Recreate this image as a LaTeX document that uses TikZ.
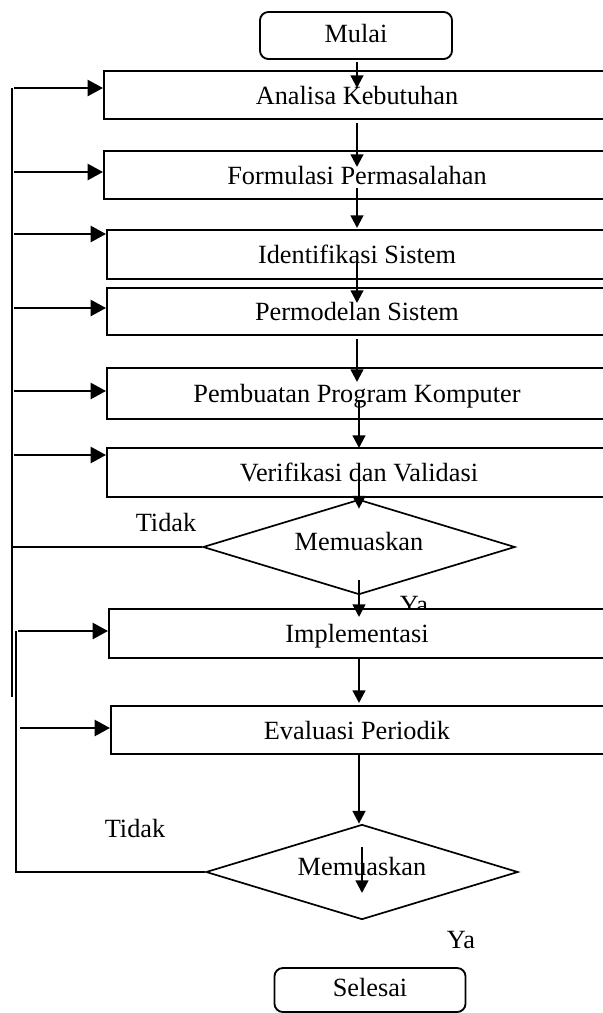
\documentclass[tikz,border=0pt]{standalone}
\usepackage{fontspec}
\setmainfont{Liberation Serif}
\usetikzlibrary{shapes.geometric, arrows.meta, calc, positioning}
\tikzset{
  flowchart/.style={
	x=0.025cm, y=-0.025cm, % one unit is one pixel, y runs downwards
	font=\fontsize{18.7}{22}\selectfont,
	line width=1.5pt,
  },
  stepbox/.style={draw, fill=white, minimum width=14cm, inner sep=0pt, anchor=north west}, % runs off the right edge
  steptext/.style={inner sep=0pt, text height=0.68em, text depth=0.22em},
  term/.style={draw, rounded corners=6pt, line width=1.3pt, inner sep=0pt, text height=1.05em, text depth=0.12em},
  decide/.style={diamond, draw, line width=1.2pt, inner sep=0pt, aspect=3.3,
	minimum width=7.8cm, minimum height=2.375cm, text height=0.68em, text depth=0.22em},
  varr/.style={-{Triangle[length=9pt, width=9pt]}, line width=1.6pt},
  harr/.style={-{Triangle[length=11pt, width=11.5pt]}, line width=1.7pt},
  back/.style={line width=1.5pt},
}
\begin{document}
\begin{tikzpicture}[flowchart]
\useasboundingbox (0,0) rectangle (603,1013);
\clip (0,0) rectangle (603,1013);

\node[term, minimum width=4.8cm, minimum height=1.175cm] (mul) at (356,35.5) {Mulai};
\node[anchor=base] (ya1) at (414,613) {Ya}; % half hidden by the next box

% process boxes
\node[stepbox, minimum height=1.2cm] (ana) at (103,70) {};
\node[stepbox, minimum height=1.2cm] (frm) at (103,150) {};
\node[stepbox, minimum height=1.225cm] (idf) at (106,229) {};
\node[stepbox, minimum height=1.175cm] (mdl) at (106,287) {};
\node[stepbox, minimum height=1.275cm] (prg) at (106,367) {};
\node[stepbox, minimum height=1.225cm] (ver) at (106,447) {};
\node[stepbox, minimum height=1.225cm] (imp) at (108,608) {};
\node[stepbox, minimum height=1.2cm] (eva) at (110,705) {};

\node[steptext] (anat) at (357,101) {Analisa Kebutuhan};
\node[steptext] (frmt) at (357,181) {Formulasi Permasalahan};
\node[steptext] (idft) at (357,260.5) {Identifikasi Sistem};
\node[steptext] (mdlt) at (357,317.5) {Permodelan Sistem};
\node[steptext] (prgt) at (357,399.5) {Pembuatan Program Komputer};
\node[steptext] (vert) at (359,478.5) {Verifikasi dan Validasi};
\node[steptext] (impt) at (357,639.5) {Implementasi};
\node[steptext] (evat) at (357,736) {Evaluasi Periodik};

\node[decide] (dec1) at (359,547) {Memuaskan};
\node[decide] (dec2) at (362,872) {Memuaskan};
\node[anchor=base] (tid1) at (166,531) {Tidak};
\node[anchor=base] (tid2) at (135,837) {Tidak};
\node[anchor=base] (ya2) at (461,948) {Ya};

\node[term, minimum width=4.775cm, minimum height=1.1cm] (sel) at (370,990) {Selesai};

% main flow
\draw[varr] ($(mul.south)+(1,2)$) -- ($(ana.north -| anat)+(0,18)$);
\draw[varr] ($(ana.south -| anat)+(0,3)$) -- ($(frm.north -| anat)+(0,17)$);
\draw[varr] ($(frm.south -| anat)+(0,-12)$) -- ($(idf.north -| anat)+(0,-1)$);
\draw[varr] ($(idf.south -| anat)+(0,-20)$) -- ($(mdl.north -| anat)+(0,16)$);
\draw[varr] ($(mdl.south -| anat)+(0,3)$) -- ($(prg.north -| anat)+(0,15)$);
\draw[varr] ($(prg.south -| dec1)+(0,-18)$) -- ($(ver.north -| dec1)+(0,1)$);
\draw[varr] ($(ver.south -| dec1)+(0,-21)$) -- ($(dec1.north)+(0,10)$);
\draw[varr] ($(dec1.south)+(0,-15)$) -- ($(imp.north -| dec1)+(0,9)$);
\draw[varr] (imp.south -| dec1) -- ($(eva.north -| dec1)+(0,-2)$);
\draw[varr] (eva.south -| dec1) -- (dec2.north -| dec1);
\draw[varr] ($(dec2.center)+(0,-25)$) -- ($(dec2.center)+(0,21)$);

% first loop back (Tidak)
\coordinate (fb1) at (12,88);
\coordinate (fb2) at (12,697);
\draw[back] (fb1) -- (fb2);
\draw[back] (dec1.west) -- (dec1.west -| fb1);
\foreach \b/\y in {ana/88, frm/172, idf/234, mdl/308, prg/391, ver/455}
{
  \coordinate (s\b) at (14,\y);
  \draw[harr] (s\b) -- (s\b -| \b.west);
}

% second loop back (Tidak)
\coordinate (fc1) at (16,631);
\coordinate (fc2) at (16,872);
\draw[back] (fc1) -- (fc2) -- (dec2.west);
\foreach \b/\y/\s in {imp/631/18, eva/728/20}
{
  \coordinate (s\b) at (\s,\y);
  \draw[harr] (s\b) -- (s\b -| \b.west);
}
\end{tikzpicture}
\end{document}
